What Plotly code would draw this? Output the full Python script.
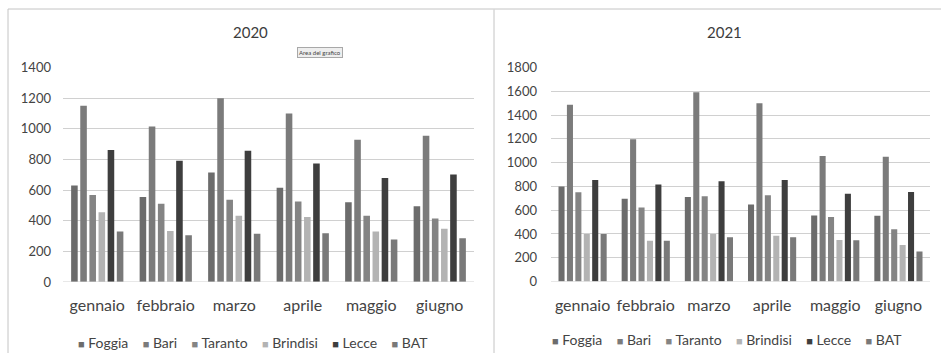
import plotly.graph_objects as go

# Categories and series
months = ["gennaio", "febbraio", "marzo", "aprile", "maggio", "giugno"]
provinces = ["Foggia", "Bari", "Taranto", "Brindisi", "Lecce", "BAT"]

foggia_2020 = [630, 555, 715, 615, 520, 495]
bari_2020 = [1150, 1015, 1200, 1100, 928, 955]
taranto_2020 = [568, 510, 537, 525, 433, 415]
brindisi_2020 = [455, 333, 432, 425, 330, 347]
lecce_2020 = [862, 792, 857, 773, 678, 702]
bat_2020 = [330, 305, 315, 318, 277, 285]

foggia_2021 = [800, 697, 711, 648, 555, 552]
bari_2021 = [1487, 1196, 1591, 1499, 1056, 1050]
taranto_2021 = [751, 622, 717, 725, 543, 440]
brindisi_2021 = [400, 342, 400, 384, 350, 308]
lecce_2021 = [854, 815, 843, 854, 739, 753]
bat_2021 = [400, 342, 372, 372, 347, 252]

ticks_2020 = list(range(0, 1401, 200))
ticks_2021 = list(range(0, 1801, 200))

series_2020 = [foggia_2020, bari_2020, taranto_2020, brindisi_2020, lecce_2020, bat_2020]
series_2021 = [foggia_2021, bari_2021, taranto_2021, brindisi_2021, lecce_2021, bat_2021]

colors = ["#6c6c6c", "#7b7b7b", "#848484", "#b3b3b3", "#3e3e3e", "#797979"]

W, H = 941, 353
FONT = "Lato, 'Open Sans', sans-serif"
TXT = "#444444"
GRID = "#d0d0d0"


def px_x(x):
    return x / W


def px_y(y):
    return 1 - y / H


fig = go.Figure()

for name, vals, col in zip(provinces, series_2020, colors):
    fig.add_trace(go.Bar(x=months, y=vals, name=name, marker_color=col,
                         marker_line_width=0, xaxis="x", yaxis="y",
                         showlegend=False))
for name, vals, col in zip(provinces, series_2021, colors):
    fig.add_trace(go.Bar(x=months, y=vals, name=name, marker_color=col,
                         marker_line_width=0, xaxis="x2", yaxis="y2",
                         showlegend=False))

xcommon = dict(showgrid=False, zeroline=False, showline=False, ticks="",
               automargin=False,
               tickfont=dict(family=FONT, size=16, color=TXT),
               ticklabelstandoff=12, fixedrange=True)
ycommon = dict(showgrid=True, gridcolor=GRID, gridwidth=1, zeroline=False,
               showline=False, ticks="", dtick=200, automargin=False,
               tickfont=dict(family=FONT, size=13, color=TXT),
               fixedrange=True)

fig.update_layout(
    template="none",
    width=W, height=H,
    margin=dict(l=0, r=0, t=0, b=0, pad=0, autoexpand=False),
    paper_bgcolor="white", plot_bgcolor="white",
    barmode="group", bargap=0.2, bargroupgap=0.28,
    xaxis=dict(domain=[px_x(63), px_x(474)], anchor="y", **xcommon),
    yaxis=dict(domain=[px_y(282), px_y(67.5)], anchor="x",
               range=[0, ticks_2020[-1]], tickvals=ticks_2020,
               ticklabelstandoff=11, **ycommon),
    xaxis2=dict(domain=[px_x(551), px_x(930)], anchor="y2", **xcommon),
    yaxis2=dict(domain=[px_y(281.5), px_y(67.5)], anchor="x2",
                range=[0, ticks_2021[-1]], tickvals=ticks_2021,
                ticklabelstandoff=13, **ycommon),
    showlegend=False,
)

# Baselines drawn like the light category axis
for xa, ya in (("x", "y"), ("x2", "y2")):
    fig.add_shape(type="line", xref=f"{xa} domain", yref=ya, x0=0, x1=1, y0=0, y1=0,
                  line=dict(color=GRID, width=1))

# Panel frame
frame = dict(color="#c4c4c4", width=1)
fig.add_shape(type="line", xref="paper", yref="paper", x0=px_x(8), x1=1,
              y0=px_y(9), y1=px_y(9), line=frame)
fig.add_shape(type="line", xref="paper", yref="paper", x0=px_x(8), x1=px_x(8),
              y0=px_y(9), y1=0, line=frame)
fig.add_shape(type="line", xref="paper", yref="paper", x0=px_x(494), x1=px_x(494),
              y0=px_y(9.5), y1=0, line=frame)

# Titles
for txt, cx in (("2020", 251), ("2021", 724)):
    fig.add_annotation(text=txt, x=px_x(cx), y=px_y(32), xref="paper", yref="paper",
                       showarrow=False, xanchor="center", yanchor="middle",
                       font=dict(family=FONT, size=15, color="#3c3c3c"))

# Chart-area tooltip
fig.add_annotation(text="Area del grafico", x=px_x(320), y=px_y(53), xref="paper",
                   yref="paper", showarrow=False, xanchor="center", yanchor="middle",
                   font=dict(family=FONT, size=6, color="#444444"),
                   bgcolor="#eeeeee", bordercolor="#a8a8a8", borderwidth=1, borderpad=1)


# Legends: coloured square + province name
def legend_text():
    gap = "\u00a0" * 4
    parts = []
    for name, col in zip(provinces, colors):
        parts.append(f"<span style='color:{col};font-size:11px'>\u25a0</span>\u00a0{name}")
    return gap.join(parts)


for cx, cy in ((253, 342), (727, 339)):
    fig.add_annotation(text=legend_text(), x=px_x(cx), y=px_y(cy), xref="paper",
                       yref="paper", showarrow=False, xanchor="center", yanchor="middle",
                       font=dict(family=FONT, size=14, color=TXT))

fig.write_html("out.html")
